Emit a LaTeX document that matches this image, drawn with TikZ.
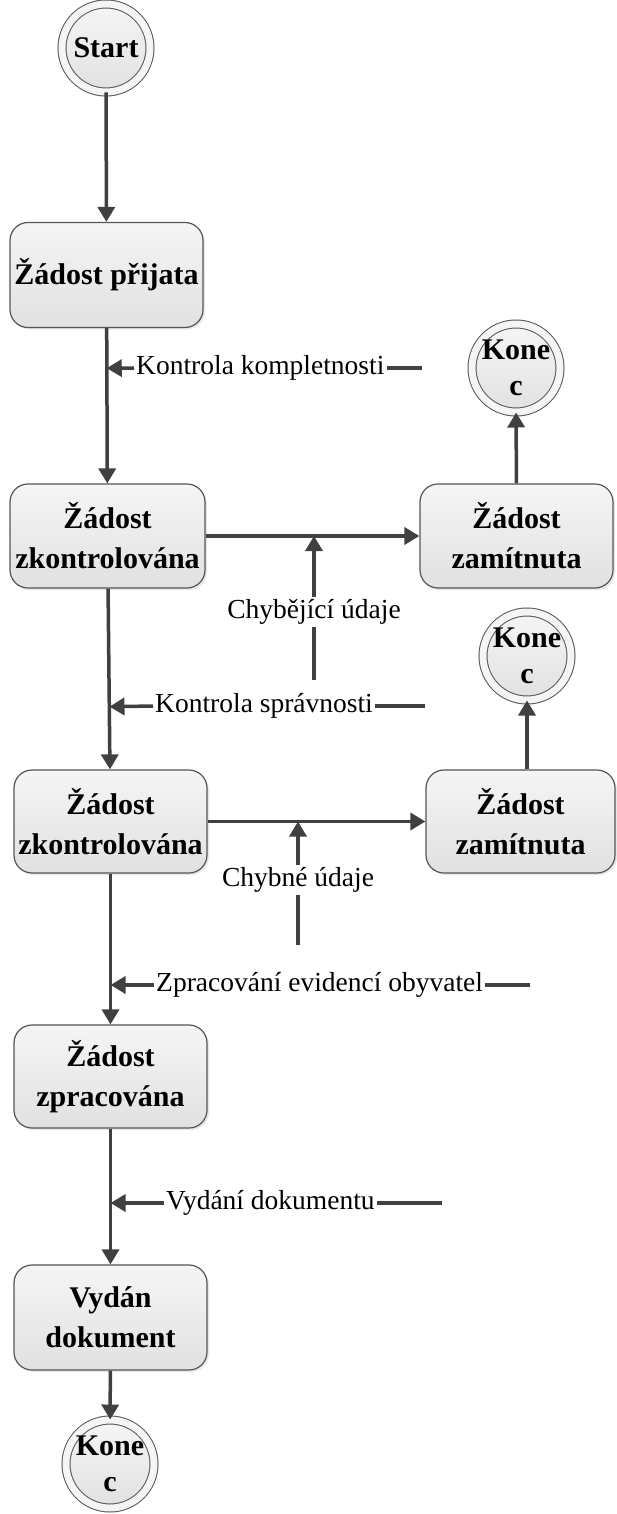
\documentclass[tikz,border=0pt]{standalone}
\usepackage{fontspec}
\setmainfont{Liberation Serif}
\usetikzlibrary{arrows.meta,shadows,calc}
\definecolor{edge}{HTML}{404040}
\definecolor{frame}{HTML}{555555}
\definecolor{boxtop}{HTML}{F5F5F5}
\definecolor{boxbot}{HTML}{E1E1E1}
\begin{document}
\begin{tikzpicture}[x=1pt,y=-1pt,
  state/.style={draw=frame, line width=1.2pt, rounded corners=18pt,
    top color=boxtop, bottom color=boxbot,
    minimum width=193pt, minimum height=105pt, inner sep=0pt, align=center,
    font=\bfseries\fontsize{30}{40}\selectfont,
    drop shadow={opacity=0.18, shadow xshift=2pt, shadow yshift=-2pt}},
  term/.style={circle, draw=frame, line width=1pt, double=boxtop,
    double distance=7pt, top color=boxtop, bottom color=boxbot,
    minimum size=88pt, inner sep=0pt},
  termtext/.style={align=center, inner sep=0pt,
    font=\bfseries\fontsize{30}{36}\selectfont},
  sig/.style={inner sep=2pt, font=\fontsize{27.5}{30}\selectfont},
  flow/.style={draw=edge, line width=3.5pt, -{Triangle[length=15pt,width=17pt]}},
  plain/.style={draw=edge, line width=3.5pt}]
\useasboundingbox (0,0) rectangle (616,1514);

% states of the request
\node[term] (start) at (106,48) {};
\node[termtext] (starttext) at (start) {Start};
\node[state] (prij) at (106.5,275) {Žádost přijata};
\node[state, minimum width=195pt, minimum height=104pt] (zk1) at (107.5,536) {Žádost\\zkontrolována};
\node[state, minimum height=104pt] (zam1) at (516.5,536) {Žádost\\zamítnuta};
\node[term] (k1) at (516,368) {};
\node[termtext] (k1text) at (k1) {Kone\\c};
\node[state, minimum height=103pt] (zk2) at (110.5,821.5) {Žádost\\zkontrolována};
\node[state, minimum width=189pt, minimum height=103pt] (zam2) at (520.5,821.5) {Žádost\\zamítnuta};
\node[term] (k2) at (527,656) {};
\node[termtext] (k2text) at (k2) {Kone\\c};
\node[state, minimum height=103pt] (zpr) at (110.5,1076.5) {Žádost\\zpracována};
\node[state, minimum height=105pt] (vyd) at (110.5,1317.5) {Vydán\\dokument};
\node[term] (k3) at (110,1464) {};
\node[termtext] (k3text) at (k3) {Kone\\c};

% transitions
\draw[flow] (start) -- (prij);
\draw[flow] (prij) -- (zk1);
\draw[flow] (zk1.east) -- (zam1.west);
\draw[flow] (zam1) -- (k1);
\draw[flow] (zk1) -- (zk2);
\draw[flow] (zk2.east) -- (zam2.west);
\draw[flow] (zam2.north -| k2) -- (k2);
\draw[flow] (zk2) -- (zpr);
\draw[flow] (zpr) -- (vyd);
\draw[flow] (vyd) -- (k3);

% events on the transitions
\node[sig, anchor=west] (l1) at (134,368) {Kontrola kompletnosti};
\coordinate (r1) at (422,368);
\coordinate (t1) at ($(prij.south)!(l1.west)!(zk1.north)$);
\draw[flow] (l1.west) -- (t1);
\draw[plain] (l1.east) -- (r1);

\node[sig, anchor=west] (l2) at (153,706) {Kontrola správnosti};
\coordinate (r2) at (425,706);
\coordinate (t2) at ($(zk1.south)!(l2.west)!(zk2.north)$);
\draw[flow] (l2.west) -- (t2);
\draw[plain] (l2.east) -- (r2);

\node[sig, anchor=west] (l3) at (154,985) {Zpracování evidencí obyvatel};
\coordinate (r3) at (530,985);
\coordinate (t3) at ($(zk2.south)!(l3.west)!(zpr.north)$);
\draw[flow] (l3.west) -- (t3);
\draw[plain] (l3.east) -- (r3);

\node[sig, anchor=west] (l4) at (164,1203) {Vydání dokumentu};
\coordinate (r4) at (442,1203);
\coordinate (t4) at ($(zpr.south)!(l4.west)!(vyd.north)$);
\draw[flow] (l4.west) -- (t4);
\draw[plain] (l4.east) -- (r4);

\node[sig] (l5) at (314,612) {Chybějící údaje};
\coordinate (b5) at (314,680);
\coordinate (t5) at ($(zk1.east)!(l5.north)!(zam1.west)$);
\draw[plain] (b5) -- (l5.south);
\draw[flow] (l5.north) -- (t5);

\node[sig] (l6) at (298,880) {Chybné údaje};
\coordinate (b6) at (298,945);
\coordinate (t6) at ($(zk2.east)!(l6.north)!(zam2.west)$);
\draw[plain] (b6) -- (l6.south);
\draw[flow] (l6.north) -- (t6);
\end{tikzpicture}
\end{document}
